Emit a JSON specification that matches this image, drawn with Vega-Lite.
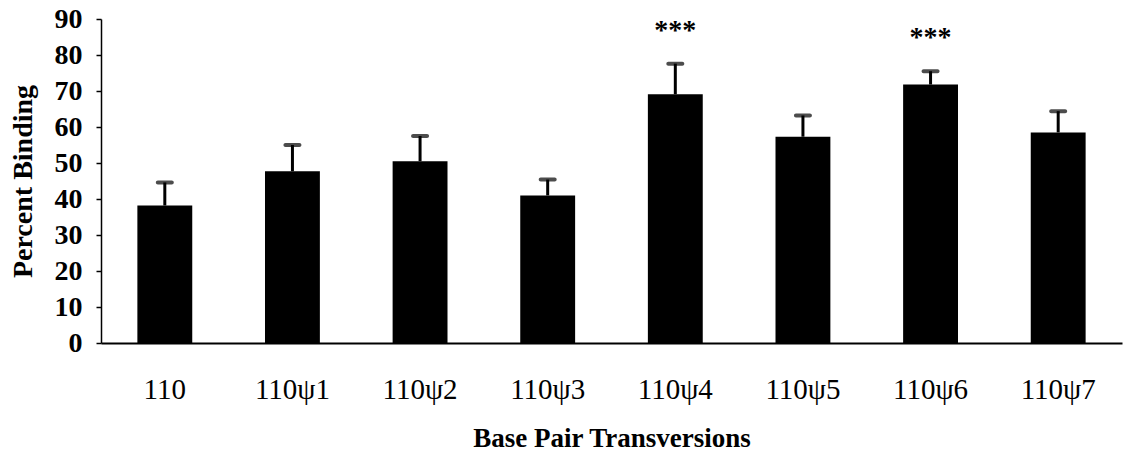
{
  "$schema": "https://vega.github.io/schema/vega-lite/v6.json",
  "autosize": "none",
  "width": 1021,
  "height": 324,
  "padding": {"left": 101, "top": 19, "right": 1, "bottom": 115},
  "background": "white",
  "config": {
    "view": {"stroke": null},
    "font": "Liberation Serif",
    "axisY": {
      "titleFont": "Liberation Serif",
      "titleFontSize": 28,
      "titleFontWeight": "bold",
      "titleColor": "black",
      "titlePadding": 17,
      "labelOverlap": false,
      "labelFont": "Liberation Serif",
      "labelFontSize": 28,
      "labelFontWeight": "bold",
      "labelColor": "black",
      "labelPadding": 14,
      "tickSize": 5,
      "tickColor": "black",
      "tickWidth": 1.5,
      "domainColor": "black",
      "domainWidth": 1.5,
      "grid": false
    }
  },
  "data": {
    "values": [
      {"construct": "110", "binding": 38.2, "upper": 44.6, "sig": ""},
      {"construct": "110ψ1", "binding": 47.7, "upper": 55.0, "sig": ""},
      {"construct": "110ψ2", "binding": 50.5, "upper": 57.5, "sig": ""},
      {"construct": "110ψ3", "binding": 41.0, "upper": 45.4, "sig": ""},
      {"construct": "110ψ4", "binding": 69.1, "upper": 77.6, "sig": "***"},
      {"construct": "110ψ5", "binding": 57.3, "upper": 63.2, "sig": ""},
      {"construct": "110ψ6", "binding": 71.8, "upper": 75.5, "sig": "***"},
      {"construct": "110ψ7", "binding": 58.5, "upper": 64.4, "sig": ""}
    ]
  },
  "encoding": {
    "x": {
      "field": "construct",
      "type": "nominal",
      "sort": null,
      "scale": {"paddingInner": 0.57, "paddingOuter": 0.285},
      "axis": {
        "title": "Base Pair Transversions",
        "titleFont": "Liberation Serif",
        "titleFontSize": 27,
        "titleFontWeight": "bold",
        "titleColor": "black",
        "titlePadding": 21,
        "labelFont": "Liberation Serif",
        "labelFontSize": 29,
        "labelFontWeight": "normal",
        "labelColor": "black",
        "labelAngle": 0,
        "labelPadding": 32,
        "labelOverlap": false,
        "ticks": false,
        "tickSize": 0,
        "domainColor": "black",
        "domainWidth": 2,
        "grid": false
      }
    }
  },
  "layer": [
    {
      "mark": {"type": "bar", "color": "black"},
      "encoding": {
        "y": {
          "field": "binding",
          "type": "quantitative",
          "scale": {"domain": [0, 90], "nice": false},
          "axis": {"title": "Percent Binding", "values": [0, 10, 20, 30, 40, 50, 60, 70, 80, 90], "tickCount": 20}
        }
      }
    },
    {
      "mark": {"type": "rule", "color": "black", "strokeWidth": 3},
      "encoding": {
        "y": {
          "field": "binding",
          "type": "quantitative",
          "scale": {"domain": [0, 90], "nice": false},
          "axis": {"title": "Percent Binding", "values": [0, 10, 20, 30, 40, 50, 60, 70, 80, 90], "tickCount": 20}
        },
        "y2": {"field": "upper"}
      }
    },
    {
      "mark": {"type": "tick", "color": "black", "thickness": 4, "size": 18, "cornerRadius": 2},
      "encoding": {
        "y": {
          "field": "upper",
          "type": "quantitative",
          "scale": {"domain": [0, 90], "nice": false},
          "axis": {"title": "Percent Binding", "values": [0, 10, 20, 30, 40, 50, 60, 70, 80, 90], "tickCount": 20}
        }
      }
    },
    {
      "mark": {"type": "text", "color": "black", "font": "Liberation Serif", "fontSize": 28, "fontWeight": "bold", "baseline": "middle", "dy": -33},
      "encoding": {
        "y": {
          "field": "upper",
          "type": "quantitative",
          "scale": {"domain": [0, 90], "nice": false},
          "axis": {"title": "Percent Binding", "values": [0, 10, 20, 30, 40, 50, 60, 70, 80, 90], "tickCount": 20}
        },
        "text": {"field": "sig"}
      }
    }
  ]
}
